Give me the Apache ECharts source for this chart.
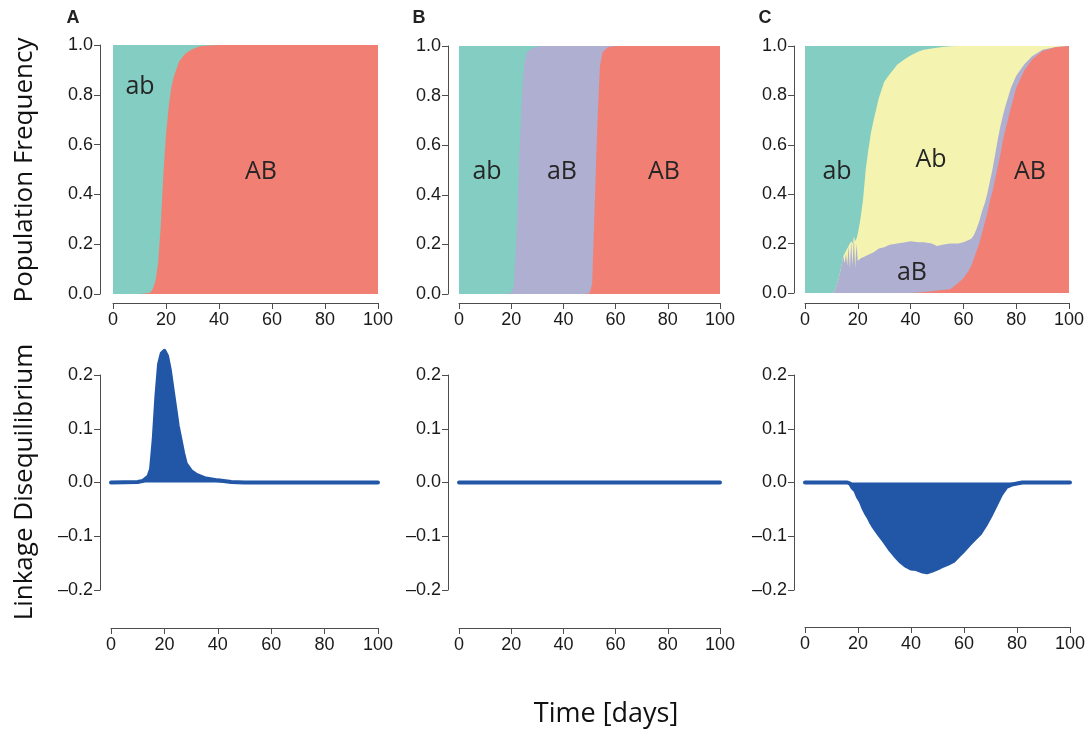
<!DOCTYPE html>
<html>
<head>
<meta charset="utf-8">
<script src="https://cdn.jsdelivr.net/npm/echarts@6/dist/echarts.min.js"></script>
<style>
  html, body { margin: 0; padding: 0; background: #fff; }
  #chart { width: 1089px; height: 731px; }
</style>
</head>
<body>
<div id="chart"></div>
<script>
// ---- data ----
// panel A: haplotype frequencies
const tA = [0, 5, 10, 12, 14, 15, 16, 17, 18, 19, 20, 21, 22, 23, 25, 27, 29, 31, 33, 36, 40, 50, 60, 80, 100];
const AB_A = [0, 0, 0, 0.002, 0.005, 0.02, 0.05, 0.12, 0.27, 0.48, 0.64, 0.75, 0.83, 0.875, 0.935, 0.962, 0.978, 0.988, 0.995, 0.998, 1, 1, 1, 1, 1];
const ab_A = [1, 1, 1, 0.998, 0.995, 0.98, 0.95, 0.88, 0.73, 0.52, 0.36, 0.25, 0.17, 0.125, 0.065, 0.038, 0.022, 0.012, 0.005, 0.002, 0, 0, 0, 0, 0];

// panel B
const tB = [0, 10, 18, 20, 21, 22, 23, 24, 25, 26, 28, 31, 40, 48, 50, 51, 52, 53, 54, 55, 57, 60, 70, 100];
const AB_B = [0, 0, 0, 0, 0, 0, 0, 0, 0, 0, 0, 0, 0, 0, 0.003, 0.04, 0.36, 0.68, 0.92, 0.975, 0.995, 1, 1, 1];
const aB_B = [0, 0, 0, 0.005, 0.03, 0.22, 0.52, 0.78, 0.93, 0.975, 0.99, 1, 1, 1, 0.997, 0.96, 0.64, 0.32, 0.08, 0.025, 0.005, 0, 0, 0];
const ab_B = [1, 1, 1, 0.995, 0.97, 0.78, 0.48, 0.22, 0.07, 0.025, 0.01, 0, 0, 0, 0, 0, 0, 0, 0, 0, 0, 0, 0, 0];

// panel C
const tC = [0, 5, 10, 11, 12, 13, 14, 14.5, 15, 15.5, 16, 16.5, 17, 17.5, 18, 18.5, 19, 19.5, 20,
  21, 22, 23, 24, 25, 26, 28, 30, 32, 35, 38, 40, 43, 45, 48, 50, 52, 55, 58, 60,
  62, 63, 64, 65, 66, 67, 68, 69, 70, 71, 72, 73, 74, 75, 76, 78, 80, 83, 86, 90, 95, 100];
const AB_C = [0, 0, 0, 0, 0, 0, 0, 0, 0, 0, 0, 0, 0, 0, 0, 0, 0, 0, 0,
  0, 0, 0, 0, 0, 0, 0, 0, 0, 0, 0, 0, 0.002, 0.004, 0.007, 0.01, 0.012, 0.015, 0.04, 0.06,
  0.09, 0.11, 0.14, 0.17, 0.2, 0.24, 0.28, 0.32, 0.37, 0.41, 0.46, 0.51, 0.56, 0.62, 0.665, 0.75, 0.83, 0.9, 0.945, 0.98, 0.995, 1];
const aB_C = [0, 0, 0, 0.005, 0.03, 0.07, 0.12, 0.15, 0.12, 0.16, 0.11, 0.19, 0.10, 0.21, 0.11, 0.23, 0.10, 0.20, 0.13,
  0.14, 0.145, 0.15, 0.155, 0.16, 0.165, 0.18, 0.185, 0.195, 0.2, 0.205, 0.21, 0.203, 0.201, 0.193, 0.18, 0.183, 0.185, 0.16, 0.145,
  0.125, 0.11, 0.095, 0.09, 0.09, 0.09, 0.08, 0.08, 0.08, 0.09, 0.1, 0.11, 0.115, 0.1, 0.095, 0.08, 0.05, 0.025, 0.013, 0.005, 0.001, 0];
const Ab_C = [0, 0, 0, 0, 0, 0, 0, 0, 0.04, 0.01, 0.06, 0, 0.09, 0, 0.09, 0, 0.11, 0.02, 0.11,
  0.16, 0.235, 0.35, 0.425, 0.49, 0.535, 0.61, 0.67, 0.69, 0.725, 0.743, 0.752, 0.773, 0.78, 0.79, 0.803, 0.801, 0.799, 0.8, 0.795,
  0.785, 0.78, 0.765, 0.74, 0.71, 0.67, 0.64, 0.6, 0.55, 0.5, 0.44, 0.38, 0.325, 0.28, 0.24, 0.17, 0.12, 0.075, 0.042, 0.015, 0.004, 0];
const ab_C = [1, 1, 1, 0.995, 0.97, 0.93, 0.88, 0.85, 0.84, 0.83, 0.83, 0.81, 0.81, 0.79, 0.80, 0.77, 0.79, 0.78, 0.76,
  0.70, 0.62, 0.50, 0.42, 0.35, 0.30, 0.21, 0.145, 0.115, 0.075, 0.052, 0.038, 0.022, 0.015, 0.01, 0.007, 0.004, 0.001, 0, 0,
  0, 0, 0, 0, 0, 0, 0, 0, 0, 0, 0, 0, 0, 0, 0, 0, 0, 0, 0, 0, 0, 0];

// linkage disequilibrium
const tLA = [0, 10, 12, 14, 15, 16, 17, 18, 19, 20, 21, 22, 23, 24, 25, 26, 27, 28, 30, 32, 35, 40, 45, 50, 100];
const ldA = [0, 0.001, 0.003, 0.011, 0.025, 0.08, 0.16, 0.22, 0.24, 0.245, 0.235, 0.21, 0.175, 0.14, 0.105, 0.08, 0.055, 0.035, 0.021, 0.014, 0.008, 0.004, 0.001, 0, 0];
const tLB = [0, 25, 50, 75, 100];
const ldB = [0, 0, 0, 0, 0];
const tLC = [0, 10, 16, 17, 18, 19, 20, 21, 22, 23, 24, 25, 26, 27, 28,
  30, 32, 34, 36, 38, 40, 42, 44, 46, 48, 50, 52, 54, 56, 58, 60, 62, 64, 66, 68, 70, 72, 74, 76, 78, 80, 82, 100];
const ldC = [0, 0, 0, -0.002, -0.01, -0.015, -0.027, -0.035, -0.047, -0.057, -0.065, -0.075, -0.083, -0.09, -0.097,
  -0.11, -0.124, -0.136, -0.147, -0.155, -0.16, -0.161, -0.165, -0.167, -0.164, -0.16, -0.155, -0.151, -0.146, -0.136, -0.126,
  -0.115, -0.105, -0.095, -0.08, -0.062, -0.042, -0.022, -0.008, -0.004, -0.002, 0, 0];

const COL = { ab: '#83cdc2', aB: '#afafd2', Ab: '#f4f4b0', AB: '#f27f73', ld: '#2157a6' };

function pairs(t, v) {
  return t.map((x, i) => [x, v[i]]);
}
// echarts stacks the x values when both axes are 'value', so the stacked
// layers are summed here and drawn back to front instead
function addUp() {
  const arrs = Array.from(arguments);
  return arrs[0].map((_, i) => arrs.reduce((s, a) => s + a[i], 0));
}

function fmt(v) {
  if (Math.abs(v) < 1e-9) v = 0;
  return v.toFixed(1).replace('-', '\u2013');
}

const axisCol = '#4d4d4d';
const tickFont = { fontFamily: 'Liberation Sans', fontSize: 18, color: '#1a1a1a' };

function xAx(grid, offset) {
  return {
    type: 'value', gridIndex: grid, min: 0, max: 100, interval: 20, offset: offset,
    axisLine: { show: true, onZero: false, lineStyle: { color: axisCol, width: 1 } },
    axisTick: { show: true, length: 6, lineStyle: { color: axisCol } },
    axisLabel: Object.assign({ margin: 8 }, tickFont),
    splitLine: { show: false }
  };
}
function yAx(grid, min, max, step, offset) {
  return {
    type: 'value', gridIndex: grid, min: min, max: max, interval: step, offset: offset,
    axisLine: { show: true, onZero: false, lineStyle: { color: axisCol, width: 1 } },
    axisTick: { show: true, length: 6, lineStyle: { color: axisCol } },
    axisLabel: Object.assign({ margin: 7, formatter: fmt }, tickFont),
    splitLine: { show: false }
  };
}

function area(name, grid, t, v, color) {
  return {
    name: name, type: 'line', xAxisIndex: grid, yAxisIndex: grid,
    data: pairs(t, v), showSymbol: false, symbol: 'none',
    lineStyle: { width: 0 }, areaStyle: { color: color, opacity: 1, origin: 'start' },
    itemStyle: { color: color }, animation: false
  };
}
function ld(grid, t, v) {
  return {
    name: 'LD', type: 'line', xAxisIndex: grid, yAxisIndex: grid, clip: false,
    data: pairs(t, v), showSymbol: false, symbol: 'none',
    lineStyle: { width: 4, color: COL.ld, cap: 'round', join: 'round' },
    areaStyle: { color: COL.ld, opacity: 1, origin: 0 },
    itemStyle: { color: COL.ld }, animation: false
  };
}

const labelFont = 'Open Sans';
function txt(x, y, s, size, extra) {
  return {
    type: 'text', x: x, y: y, z: 100, silent: true,
    style: Object.assign({ text: s, fontFamily: labelFont, fontSize: size, fill: '#262626', align: 'center', verticalAlign: 'middle' }, extra || {})
  };
}
function vtxt(x, y, s, size) {
  const o = txt(x, y, s, size, { fill: '#111' });
  o.rotation = Math.PI / 2;
  return o;
}
const bold = { fontFamily: 'Liberation Sans', fontWeight: 'bold', fill: '#222' };

const chart = echarts.init(document.getElementById('chart'), null, { renderer: 'canvas' });
chart.setOption({
  backgroundColor: '#fff',
  animation: false,
  grid: [
    { left: 113, top: 45, width: 265, height: 249 },
    { left: 459, top: 46, width: 261, height: 248 },
    { left: 805, top: 46, width: 264, height: 247 },
    { left: 111, top: 375, width: 267, height: 215 },
    { left: 459, top: 375, width: 261, height: 215 },
    { left: 805, top: 375, width: 265, height: 215 }
  ],
  xAxis: [xAx(0, 9), xAx(1, 9), xAx(2, 10), xAx(3, 38), xAx(4, 38), xAx(5, 37)],
  yAxis: [
    yAx(0, 0, 1, 0.2, 13), yAx(1, 0, 1, 0.2, 11), yAx(2, 0, 1, 0.2, 11),
    yAx(3, -0.2, 0.2, 0.1, 11), yAx(4, -0.2, 0.2, 0.1, 11), yAx(5, -0.2, 0.2, 0.1, 11)
  ],
  series: [
    area('ab', 0, tA, addUp(AB_A, ab_A), COL.ab),
    area('AB', 0, tA, AB_A, COL.AB),

    area('ab', 1, tB, addUp(AB_B, aB_B, ab_B), COL.ab),
    area('aB', 1, tB, addUp(AB_B, aB_B), COL.aB),
    area('AB', 1, tB, AB_B, COL.AB),

    area('ab', 2, tC, addUp(AB_C, aB_C, Ab_C, ab_C), COL.ab),
    area('Ab', 2, tC, addUp(AB_C, aB_C, Ab_C), COL.Ab),
    area('aB', 2, tC, addUp(AB_C, aB_C), COL.aB),
    area('AB', 2, tC, AB_C, COL.AB),

    ld(3, tLA, ldA),
    ld(4, tLB, ldB),
    ld(5, tLC, ldC)
  ],
  graphic: [
    txt(73, 18, 'A', 18, bold),
    txt(419, 18, 'B', 18, bold),
    txt(765, 18, 'C', 18, bold),
    vtxt(25, 170, 'Population Frequency', 26),
    vtxt(25, 482, 'Linkage Disequilibrium', 26),
    txt(606, 714, 'Time [days]', 27, { fill: '#111' }),
    txt(140, 87, 'ab', 25), txt(261, 172, 'AB', 25),
    txt(487, 172, 'ab', 25), txt(562, 172, 'aB', 25), txt(664, 172, 'AB', 25),
    txt(837, 172, 'ab', 25), txt(931, 160, 'Ab', 25), txt(1030, 172, 'AB', 25), txt(912, 273, 'aB', 25)
  ]
});
</script>
</body>
</html>
